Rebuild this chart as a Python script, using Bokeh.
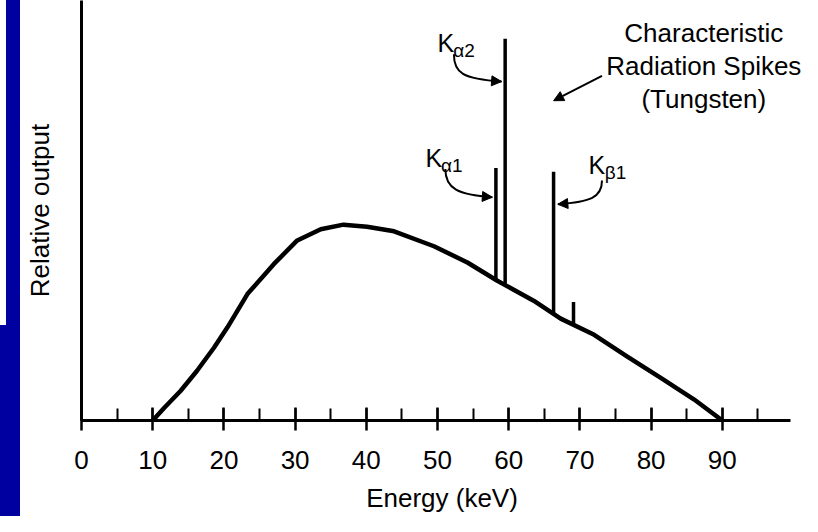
import numpy as np
from bokeh.plotting import figure
from bokeh.models import Label, Arrow, NormalHead, Range1d, SingleIntervalTicker, Div
from bokeh.layouts import row
from bokeh.embed import file_html
from bokeh.resources import INLINE

# Continuous (bremsstrahlung) spectrum
energy_kev = [10, 11.6, 13.9, 16.2, 18.6, 20.5, 23.3, 27.0, 30.3, 33.6, 36.8, 40.1,
              43.9, 49.5, 54.2, 58.4, 63.5, 67.3, 72.0, 76.6, 81.3, 86.0, 90]
relative_output = [0, 3.0, 7.1, 11.9, 17.5, 22.4, 30.4, 37.6, 43.3, 46.0, 47.1, 46.6,
                   45.5, 41.9, 38.0, 33.6, 28.8, 24.5, 20.6, 15.4, 10.3, 5.1, 0]

# Characteristic spikes (tungsten)
spike_energy = [58.2, 59.5, 66.3, 69.1]
spike_top = [60.7, 91.8, 59.8, 28.5]

x_ticks_interval = 10
axis_end_kev = 99.6

BLUE = "#0000A0"
FONT = "Liberation Sans"

p = figure(width=782, height=516, x_range=Range1d(0, 101.26), y_range=Range1d(0, 101.0),
           output_backend="svg", toolbar_location=None,
           min_border_left=61, min_border_right=0, min_border_top=0, min_border_bottom=96)
p.outline_line_color = None
p.grid.visible = False
p.background_fill_color = "white"
p.border_fill_color = "white"

# spectrum curve
p.line(energy_kev, relative_output, line_color="black", line_width=4.5, line_join="round")

# spikes rising from the curve
spike_base = list(np.interp(spike_energy, energy_kev, relative_output))
p.segment(x0=spike_energy, y0=spike_base, x1=spike_energy, y1=spike_top,
          line_color="black", line_width=3.5)

# axes
xa = p.xaxis[0]
xa.bounds = (0, axis_end_kev)
xa.ticker = SingleIntervalTicker(interval=x_ticks_interval, num_minor_ticks=2)
xa.axis_line_width = 3
xa.major_tick_line_width = 2.5
xa.minor_tick_line_width = 2
xa.major_tick_in = 13
xa.major_tick_out = 10
xa.minor_tick_in = 12
xa.minor_tick_out = 0
xa.major_label_text_font = FONT
xa.major_label_text_font_size = "26px"
xa.major_label_text_color = "black"
xa.major_label_standoff = 20
xa.axis_label = "Energy (keV)"
xa.axis_label_text_font = FONT
xa.axis_label_text_font_size = "26px"
xa.axis_label_text_font_style = "normal"
xa.axis_label_text_color = "black"
xa.axis_label_standoff = 11

ya = p.yaxis[0]
ya.ticker = []
ya.axis_line_width = 3
ya.major_tick_line_color = None
ya.minor_tick_line_color = None
ya.major_label_text_font_size = "0px"
ya.axis_label = "Relative output"
ya.axis_label_text_font = FONT
ya.axis_label_text_font_size = "26px"
ya.axis_label_text_font_style = "normal"
ya.axis_label_text_color = "black"
ya.axis_label_standoff = 27

# Annotation text
for txt, yy in [("Characteristic", 93.3), ("Radiation Spikes", 85.3), ("(Tungsten)", 77.3)]:
    p.add_layout(Label(x=87.4, y=yy, text=txt, text_font=FONT, text_font_size="26px",
                       text_align="center", text_baseline="alphabetic", text_color="black"))

def klabel(x, y, sub, xs, ys):
    p.add_layout(Label(x=x, y=y, text="K", text_font=FONT, text_font_size="25px",
                       text_baseline="alphabetic", text_color="black"))
    p.add_layout(Label(x=xs, y=ys, text=sub, text_font=FONT, text_font_size="19px",
                       text_baseline="alphabetic", text_color="black"))

klabel(50.0, 90.8, "α2", 52.2, 88.9)
klabel(48.3, 63.2, "α1", 50.5, 61.3)
klabel(71.2, 61.5, "β1", 73.5, 59.6)

# curved arrows
def curved_arrow(P0, P1, P2, P3):
    p.bezier(x0=[P0[0]], y0=[P0[1]], cx0=[P1[0]], cy0=[P1[1]], cx1=[P2[0]], cy1=[P2[1]],
             x1=[P3[0]], y1=[P3[1]], line_color="black", line_width=2)
    p.add_layout(Arrow(x_start=P2[0], y_start=P2[1], x_end=P3[0], y_end=P3[1],
                       line_alpha=0,
                       end=NormalHead(size=10, fill_color="black", line_color="black", line_width=1)))

curved_arrow((52.3, 88.1), (52.3, 83.6), (53.5, 82.2), (59.0, 81.5))
curved_arrow((51.1, 60.5), (51.1, 55.7), (52.9, 54.3), (57.7, 53.7))
curved_arrow((73.1, 57.7), (73.1, 53.6), (71.5, 52.6), (66.9, 52.0))

# straight arrow from the title to the spikes
p.add_layout(Arrow(x_start=73.1, y_start=82.9, x_end=66.3, y_end=76.9,
                   line_color="black", line_width=2,
                   end=NormalHead(size=10, fill_color="black", line_color="black", line_width=1)))

strip = Div(width=20, height=516, margin=0,
            styles={"background": "linear-gradient(to right, #ffffff 6px, transparent 6px) 0 0 / 100% 325px no-repeat, " + BLUE})
layout = row(strip, p, spacing=0)

open("out.html", "w").write(file_html(layout, INLINE))
